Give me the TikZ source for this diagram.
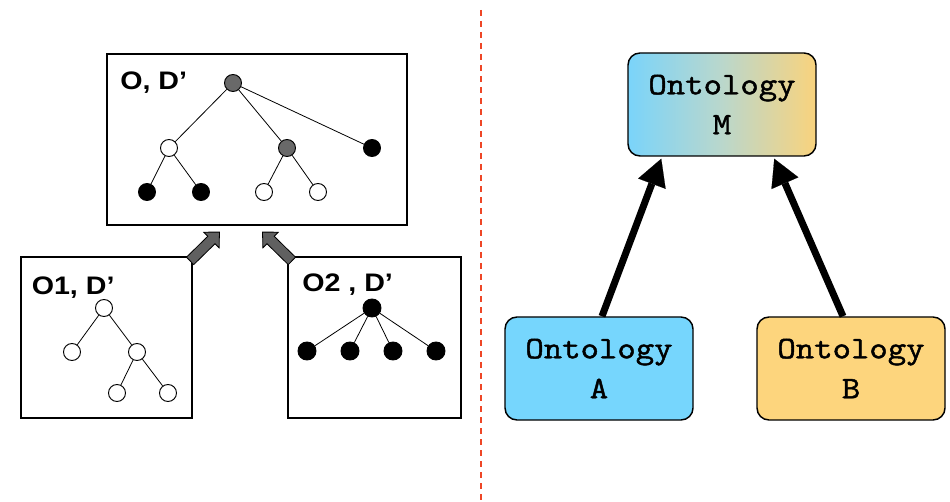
\documentclass[tikz,border=0pt]{standalone}
\usepackage{fontspec}
\usetikzlibrary{arrows.meta,calc}
\newfontfamily\labelfont{Liberation Sans}[FakeStretch=1.13]
\newfontfamily\ontofont{Latin Modern Mono}[FakeBold=1.5, FakeStretch=1.14]

\definecolor{ontoblue}{RGB}{118,214,253}
\definecolor{ontoorange}{RGB}{253,213,125}
\definecolor{mleft}{RGB}{122,212,250}
\definecolor{mmid}{RGB}{186,215,204}
\definecolor{mright}{RGB}{249,211,125}
\definecolor{treegray}{RGB}{105,105,105}
\definecolor{arrowgray}{RGB}{96,96,96}
\definecolor{divider}{RGB}{238,70,38}

% fat grey arrow from a tail point #1 to a tip point #2
\newcommand\blockarrow[2]{%
  \coordinate (ba-base) at ($(#2)!8.5pt!(#1)$);
  \filldraw[blockarrow]
    ($(#1)!3.9pt!90:(#2)$) --
    ($(ba-base)!3.9pt!90:(#2)$) --
    ($(ba-base)!8.25pt!90:(#2)$) --
    (#2) --
    ($(ba-base)!8.25pt!-90:(#2)$) --
    ($(ba-base)!3.9pt!-90:(#2)$) --
    ($(#1)!3.9pt!-90:(#2)$) -- cycle;
}

\begin{document}
\begin{tikzpicture}[x=0.75pt, y=-0.75pt,
  panel/.style={draw=black, line width=0.9pt, rectangle, inner sep=0pt},
  treenode/.style={circle, draw=black, line width=0.7pt, minimum size=12.75pt, inner sep=0pt},
  wnode/.style={treenode, fill=white},
  bnode/.style={treenode, fill=black},
  gnode/.style={treenode, fill=treegray},
  treeedge/.style={draw=black, line width=0.6pt},
  panellabel/.style={font=\labelfont\bfseries\fontsize{19}{21}\selectfont, anchor=base west, inner sep=0pt},
  blockarrow/.style={fill=arrowgray, draw=black, line width=0.6pt, line join=miter},
  ontobox/.style={draw=black, line width=1.1pt, rounded corners=9pt,
    minimum width=141pt, minimum height=77.25pt, align=center, inner sep=0pt,
    font=\ontofont\fontsize{23.5}{30}\selectfont},
  merge/.style={line width=5.25pt, -{Triangle[length=20pt, width=22pt, line width=0.1pt]}},
  divline/.style={draw=divider, line width=1.5pt, dash pattern=on 4.5pt off 3.75pt}
]
\useasboundingbox (0,0) rectangle (950,502);

% dividing line
\coordinate (divtop) at (481,10);
\coordinate (divbot) at (481,502);
\draw[divline] (divtop) -- (divbot);

% ---------- left half: merged ontology and its two sources ----------
\node[panel, minimum width=225pt, minimum height=128.25pt] (merged) at (257,139.5) {};
\node[panel, minimum width=128.25pt, minimum height=120.75pt] (src1) at (106.5,337.5) {};
\node[panel, minimum width=129.75pt, minimum height=120.75pt] (src2) at (374.5,337.5) {};

\node[panellabel] (lblM) at (120,89.5) {O, D’};
\node[panellabel] (lbl1) at (31.5,295) {O1, D’};
\node[panellabel] (lbl2) at (302,291.5) {O2 , D’};

% tree of the merged ontology
\node[gnode] (r)  at (233,83) {};
\node[wnode] (a)  at (169,148) {};
\node[gnode] (b)  at (287,148) {};
\node[bnode] (c)  at (372,148) {};
\node[bnode] (a1) at (147,192) {};
\node[bnode] (a2) at (201,192) {};
\node[wnode] (b1) at (264,192) {};
\node[wnode] (b2) at (318,192) {};
\foreach \u/\v in {r/a, r/b, r/c, a/a1, a/a2, b/b1, b/b2}
  \draw[treeedge] (\u) -- (\v);

% tree of O1
\node[wnode] (p)   at (104,308) {};
\node[wnode] (p1)  at (72,352) {};
\node[wnode] (p2)  at (137,352) {};
\node[wnode] (p21) at (117,393) {};
\node[wnode] (p22) at (168,393) {};
\foreach \u/\v in {p/p1, p/p2, p2/p21, p2/p22}
  \draw[treeedge] (\u) -- (\v);

% tree of O2
\node[bnode, minimum size=13.5pt] (q)  at (372,308) {};
\node[bnode, minimum size=13.5pt] (q1) at (307,351) {};
\node[bnode, minimum size=13.5pt] (q2) at (350,351) {};
\node[bnode, minimum size=13.5pt] (q3) at (393,351) {};
\node[bnode, minimum size=13.5pt] (q4) at (436,351) {};
\foreach \v in {q1, q2, q3, q4}
  \draw[treeedge] (q) -- (\v);

% fat arrows from the sources into the merged ontology
\coordinate (t1) at ($(src1.north east)+(-2.5,4.5)$);
\coordinate (h1) at ($(merged.south)+(-37.5,6.5)$);
\coordinate (t2) at ($(src2.north west)+(4.5,4.5)$);
\coordinate (h2) at ($(merged.south)+(5.5,6.5)$);
\blockarrow{t1}{h1}
\blockarrow{t2}{h2}

% ---------- right half: ontology merging ----------
\node[ontobox, left color=mleft, right color=mright, middle color=mmid] (M) at (722,104.5) {Ontology\\M};
\node[ontobox, fill=ontoblue] (A) at (599,368.5) {Ontology\\A};
\node[ontobox, fill=ontoorange] (B) at (851,368.5) {Ontology\\B};

\coordinate (tailA) at ($(A.north)+(3,0)$);
\coordinate (tipA)  at ($(M.south west)+(34,2)$);
\coordinate (tailB) at ($(B.north)+(-8,0)$);
\coordinate (tipB)  at ($(M.south west)+(147,2)$);
\draw[merge] (tailA) -- (tipA);
\draw[merge] (tailB) -- (tipB);
\end{tikzpicture}
\end{document}
